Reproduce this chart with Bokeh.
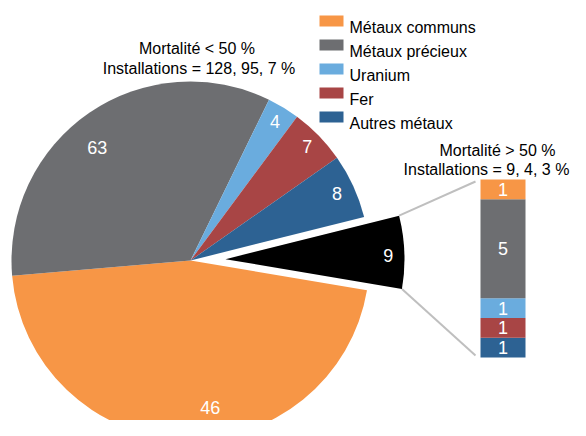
import numpy as np
from bokeh.plotting import figure
from bokeh.models import Range1d, ColumnDataSource
from bokeh.core.properties import value
from bokeh.embed import file_html
from bokeh.resources import INLINE

# ---------------- data ----------------
categories = ["Métaux communs", "Métaux précieux", "Uranium", "Fer", "Autres métaux"]
pie_shares = [63, 46, 4, 7, 8]          # slice sizes as drawn in the pie
pie_other = 9                            # exploded slice (mortalité > 50 %)
pie_labels = ["46", "63", "4", "7", "8", "9"]
bar_values = [1, 5, 1, 1, 1]             # breakdown of the exploded slice
bar_labels = ["1", "5", "1", "1", "1"]
title_low = ["Mortalité < 50 %", "Installations = 128, 95, 7 %"]
title_high = ["Mortalité > 50 %", "Installations = 9, 4, 3 %"]

colors = ["#F79646", "#6D6E71", "#6AACDE", "#A84545", "#2D6293"]
other_color = "#000000"
FONT = "Liberation Sans"

# ---------------- layout ----------------
W, H = 570, 420
p = figure(width=W, height=H, x_range=Range1d(0, W), y_range=Range1d(0, H),
           output_backend="svg", toolbar_location=None, min_border=0,
           x_axis_location=None, y_axis_location=None)
p.grid.visible = False
p.outline_line_color = None
p.background_fill_color = "white"

# pie geometry
cx, cy, R = 190.0, 160.0, 179.0
theta0 = -9.6
explode = 35.0

vals = pie_shares + [pie_other]
total = float(sum(vals))
cum = np.concatenate([[0], np.cumsum(vals)])
bounds = np.radians(theta0 - 360.0 * cum / total)
starts = bounds[1:]
ends = bounds[:-1]
mids = (starts + ends) / 2

xs = [cx] * len(vals)
ys = [cy] * len(vals)
xs[-1] = cx + explode * np.cos(mids[-1])
ys[-1] = cy + explode * np.sin(mids[-1])

pie_src = ColumnDataSource(dict(x=xs, y=ys, start=list(starts), end=list(ends),
                                color=colors + [other_color]))
p.wedge(x="x", y="y", radius=R, start_angle="start", end_angle="end",
        fill_color="color", line_color=None, source=pie_src)

lab_r = [0.83, 0.82, 0.91, 0.91, 0.90, 0.91]
lab_dt = np.radians([10, 5, 0, 0, 0, -1])
lab_x = [xs[i] + lab_r[i] * R * np.cos(mids[i] + lab_dt[i]) for i in range(len(vals))]
lab_y = [ys[i] + lab_r[i] * R * np.sin(mids[i] + lab_dt[i]) for i in range(len(vals))]
p.text(x=lab_x, y=lab_y, text=pie_labels, text_color="white",
       text_font=value(FONT), text_font_size="18px",
       text_align="center", text_baseline="middle")

# bar (stacked) on its own scale
bar_unit = 178.0 / 9.0
bar_base = 63.0
p.extra_y_ranges = {"bar": Range1d(-bar_base / bar_unit, (H - bar_base) / bar_unit)}
bar_x, bar_w = 502.5, 45.0
keys = [f"c{i}" for i in range(len(categories))]
bar_src = ColumnDataSource({k: [v] for k, v in zip(keys, bar_values)} | {"x": [bar_x]})
p.vbar_stack(stackers=list(reversed(keys)), x="x", width=bar_w,
             color=list(reversed(colors)), line_color=None,
             source=bar_src, y_range_name="bar")

rev_vals = list(reversed(bar_values))
bottoms = np.concatenate([[0], np.cumsum(rev_vals)])[:-1]
centers = bottoms + np.array(rev_vals) / 2.0
p.text(x=[bar_x] * len(rev_vals), y=list(centers), text=list(reversed(bar_labels)),
       text_color="white", text_font=value(FONT), text_font_size="18px",
       text_align="center", text_baseline="middle", y_range_name="bar")

# connector lines from exploded slice to the bar
bx, by = xs[-1], ys[-1]
up = (bx + R * np.cos(ends[-1]), by + R * np.sin(ends[-1]))
lo = (bx + R * np.cos(starts[-1]), by + R * np.sin(starts[-1]))
bar_left = bar_x - bar_w / 2 - 5
bar_top = bar_base + sum(bar_values) * bar_unit
p.segment(x0=[up[0], lo[0]], y0=[up[1], lo[1]], x1=[bar_left, bar_left],
          y1=[bar_top - 2, bar_base + 2], line_color="#BFBFBF", line_width=2)

# annotation texts
p.text(x=[196.5, 198.5], y=[371.7, 351.7], text=title_low, text_color="#000000",
       text_font=value(FONT), text_font_size="16px",
       text_align="center", text_baseline="alphabetic")
p.text(x=[497, 486], y=[270, 251], text=title_high, text_color="#000000",
       text_font=value(FONT), text_font_size="16px",
       text_align="center", text_baseline="alphabetic")

# legend (swatches + labels)
n = len(categories)
sw_y = [399.5 - 24 * i for i in range(n)]
txt_y = [393.3 - 24 * i for i in range(n)]
p.rect(x=[331] * n, y=sw_y, width=24, height=11,
       fill_color=colors, line_color=None)
p.text(x=[349] * n, y=txt_y, text=categories, text_color="#000000",
       text_font=value(FONT), text_font_size="16px",
       text_align="left", text_baseline="alphabetic")

open("out.html", "w").write(file_html(p, INLINE))
